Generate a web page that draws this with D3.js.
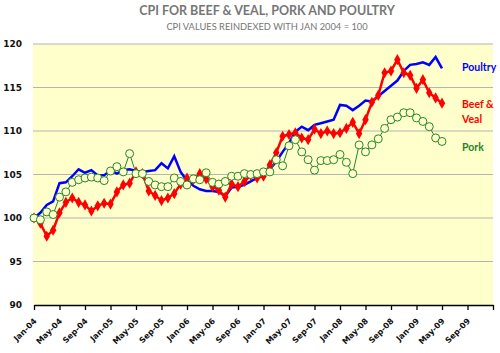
<!DOCTYPE html>
<head>
  <meta charset="utf-8">
  <style>
  body { margin: 0; background: #fff; }
  .grid line { stroke: #b4b4b4; stroke-width: 1px; }
  .tick text { font-family: "DejaVu Sans", Verdana, sans-serif; font-weight: bold; fill: #111; }
  .title { font-family: Lato, sans-serif; font-weight: bold; fill: #767676; }
  .legend { font-family: Lato, sans-serif; font-weight: bold; font-size: 10.5px; }
  </style>
  <script src="https://d3js.org/d3.v7.min.js"></script>
</head>

<body>
  <svg width="500" height="353"></svg>

  <script>

  // monthly values, Jan-04 .. May-09
  var poultry = [100, 100.6, 101.5, 101.9, 104.0, 104.1, 104.8, 105.6, 105.2, 105.5, 104.9, 104.9,
    105.5, 105.1, 105.5, 105.6, 105.4, 105.3, 105.4, 105.5, 106.3, 105.7, 107.1, 105.3,
    104.3, 103.7, 103.3, 103.1, 103.1, 103.0, 102.5, 103.5, 103.6, 103.8, 104.2, 104.6,
    105.0, 105.6, 106.5, 107.6, 108.6, 109.9, 110.5, 110.1, 110.7, 110.9, 111.1, 111.3,
    113.0, 112.9, 112.4, 112.9, 113.5, 113.4, 114.0, 114.6, 115.2, 115.8, 116.9, 117.6,
    117.7, 117.9, 117.6, 118.5, 117.2];

  var beefVeal = [100, 99.4, 97.9, 98.6, 100.6, 101.8, 102.3, 101.8, 101.5, 100.8, 101.4, 101.7,
    101.6, 103.0, 103.8, 104.0, 105.3, 105.1, 103.1, 102.6, 102.0, 102.3, 102.8, 103.9,
    104.6, 104.4, 105.1, 104.5, 103.6, 103.2, 102.4, 103.9, 103.6, 104.2, 104.9, 104.6,
    104.8, 106.1, 107.5, 109.4, 109.6, 109.8, 109.2, 109.0, 110.2, 109.7, 110.0, 109.7,
    109.8, 110.3, 111.0, 109.7, 111.3, 113.3, 114.1, 116.7, 116.9, 118.2, 116.7, 116.4,
    114.9, 115.9, 114.4, 113.8, 113.2];

  var pork = [100.0, 99.8, 100.7, 100.4, 102.4, 103.0, 104.1, 104.4, 104.6, 104.7, 104.6, 104.3,
    105.4, 105.9, 105.3, 107.4, 105.1, 105.1, 104.2, 103.8, 103.6, 103.6, 104.6, 104.2,
    103.8, 104.5, 104.4, 105.2, 104.1, 103.9, 104.2, 104.8, 104.8, 105.1, 105.0, 105.1,
    105.3, 105.3, 106.7, 106.0, 108.3, 109.0, 107.6, 106.7, 105.5, 106.6, 106.6, 106.7,
    107.3, 106.4, 105.1, 108.4, 107.6, 108.4, 109.1, 110.3, 111.3, 111.6, 112.1, 112.1,
    111.5, 111.1, 110.5, 109.2, 108.8];

  var xTickLabels = ["Jan-04", "May-04", "Sep-04", "Jan-05", "May-05", "Sep-05", "Jan-06", "May-06",
    "Sep-06", "Jan-07", "May-07", "Sep-07", "Jan-08", "May-08", "Sep-08", "Jan-09", "May-09", "Sep-09"];
  var yTicks = [90, 95, 100, 105, 110, 115, 120];

  var svg = d3.select("svg");

  var x = d3.scaleLinear().domain([0, 72]).range([34, 493]);
  var y = d3.scaleLinear().domain([90, 120]).range([305, 44]);

  // plot background
  svg.append("rect")
    .attr("x", x(0) - 1).attr("y", y(120))
    .attr("width", x(72) - x(0) + 1).attr("height", y(90) - y(120))
    .attr("fill", "#ffffcc");

  // gridlines
  svg.append("g")
    .attr("class", "grid")
    .selectAll("line")
    .data(yTicks.slice(1))
    .enter().append("line")
    .attr("x1", x(0) - 1).attr("x2", x(72))
    .attr("y1", function(d) { return y(d); })
    .attr("y2", function(d) { return y(d); });

  // y axis labels
  var yAxis = svg.append("g")
    .attr("transform", "translate(" + (x(0) - 1) + ",0)")
    .call(d3.axisLeft(y).tickValues(yTicks).tickSize(0).tickPadding(11));
  yAxis.select(".domain").remove();
  yAxis.selectAll("text").style("font-size", "9px");

  // x axis
  var xAxis = svg.append("g")
    .attr("transform", "translate(0," + y(90) + ")")
    .call(d3.axisBottom(x)
      .tickValues(d3.range(0, 73, 4))
      .tickSize(5)
      .tickSizeOuter(0)
      .tickFormat(function(d) { return xTickLabels[d / 4] || ""; }));
  xAxis.select(".domain").attr("stroke", "#000").attr("stroke-width", 1.3);
  xAxis.selectAll("line").attr("stroke", "#000").attr("stroke-width", 1.3);
  xAxis.selectAll("text")
    .style("font-size", "8px")
    .attr("text-anchor", "end")
    .attr("dy", "0")
    .attr("transform", "translate(-3,11) rotate(-45)");

  var line = d3.line()
    .x(function(d, i) { return x(i); })
    .y(function(d) { return y(d); });

  // poultry
  svg.append("path")
    .datum(poultry)
    .attr("fill", "none")
    .attr("stroke", "#0000ff")
    .attr("stroke-width", 2.5)
    .attr("d", line);

  // beef & veal
  svg.append("path")
    .datum(beefVeal)
    .attr("fill", "none")
    .attr("stroke", "#ff0000")
    .attr("stroke-width", 2.5)
    .attr("d", line);

  svg.append("g")
    .selectAll("path")
    .data(beefVeal)
    .enter().append("path")
    .attr("d", d3.symbol().type(d3.symbolDiamond).size(36))
    .attr("fill", "#ff0000")
    .attr("transform", function(d, i) { return "translate(" + x(i) + "," + y(d) + ")"; });

  // pork
  svg.append("path")
    .datum(pork)
    .attr("fill", "none")
    .attr("stroke", "#278527")
    .attr("stroke-width", 1)
    .attr("d", line);

  svg.append("g")
    .selectAll("circle")
    .data(pork)
    .enter().append("circle")
    .attr("cx", function(d, i) { return x(i); })
    .attr("cy", function(d) { return y(d); })
    .attr("r", 4)
    .attr("fill", "#ffffcc")
    .attr("stroke", "#278527")
    .attr("stroke-width", 1);

  // titles
  svg.append("text").attr("class", "title")
    .attr("x", 267).attr("y", 15)
    .attr("text-anchor", "middle")
    .style("font-size", "12.5px")
    .text("CPI FOR BEEF & VEAL, PORK AND POULTRY");

  svg.append("text").attr("class", "title")
    .attr("x", 267).attr("y", 30)
    .attr("text-anchor", "middle")
    .style("font-size", "9.3px")
    .style("font-weight", "normal")
    .text("CPI VALUES REINDEXED WITH JAN 2004 = 100");

  // series labels
  svg.append("text").attr("class", "legend")
    .attr("x", 462).attr("y", 71).attr("fill", "#0000ff").text("Poultry");
  svg.append("text").attr("class", "legend")
    .attr("x", 462).attr("y", 108).attr("fill", "#ff0000").text("Beef &");
  svg.append("text").attr("class", "legend")
    .attr("x", 462).attr("y", 123).attr("fill", "#ff0000").text("Veal");
  svg.append("text").attr("class", "legend")
    .attr("x", 462).attr("y", 151).attr("fill", "#278527").text("Pork");

  </script>
</body>
